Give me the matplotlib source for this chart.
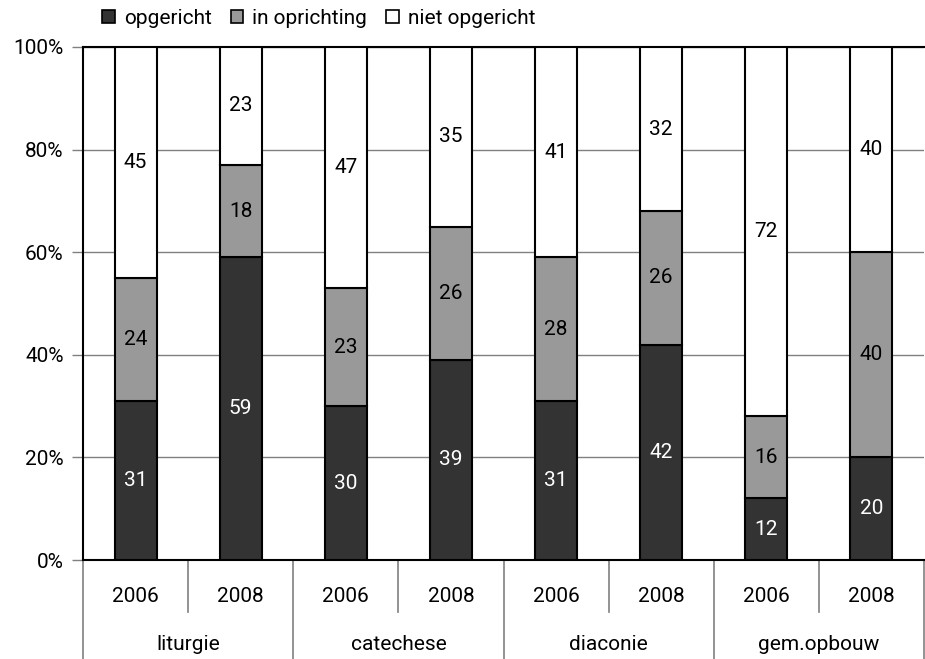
import matplotlib
matplotlib.use("Agg")
import matplotlib.pyplot as plt
from matplotlib.patches import Patch
import numpy as np

groups = ["liturgie", "catechese", "diaconie", "gem.opbouw"]
years = ["2006", "2008"]
series_names = ["opgericht", "in oprichting", "niet opgericht"]
opgericht = [31, 59, 30, 39, 31, 42, 12, 20]
in_oprichting = [24, 18, 23, 26, 28, 26, 16, 40]
niet_opgericht = [45, 23, 47, 35, 41, 32, 72, 40]
yticks = [0, 20, 40, 60, 80, 100]

plt.rcParams['font.family'] = ["Roboto", "DejaVu Sans"]
FS = 15

W, H = 925, 659
fig = plt.figure(figsize=(W / 100, H / 100), dpi=100)
left, right, bottom, top = 83 / W, 924 / W, 1 - 560 / H, 1 - 47 / H
ax = fig.add_axes([left, bottom, right - left, top - bottom])

colors = ["#333333", "#999999", "#ffffff"]
txtcol = ["white", "black", "black"]
data = [opgericht, in_oprichting, niet_opgericht]
x = np.arange(len(opgericht))
base = np.zeros(len(x))
for vals, c, tc in zip(data, colors, txtcol):
    vals = np.array(vals, dtype=float)
    ax.bar(x, vals, 0.4, bottom=base, color=c, edgecolor="black", linewidth=1.5, zorder=3)
    for xi, b, v in zip(x, base, vals):
        ax.text(xi, b + v / 2, f"{int(v)}", ha="center", va="center", color=tc, fontsize=FS, zorder=4)
    base += vals

ax.set_xlim(-0.5, 7.5)
ax.set_ylim(0, 100)
ax.set_yticks(yticks)
ax.set_yticklabels([f"{t}%" for t in yticks], fontsize=FS)
ax.yaxis.grid(True, color="#808080", linewidth=1, zorder=0)
ax.set_xticks([])
for s in ["left", "top", "bottom"]:
    ax.spines[s].set_color("black")
    ax.spines[s].set_linewidth(1.5)
ax.spines["right"].set_visible(False)
ax.tick_params(axis="y", length=8, width=1, color="#808080", pad=6)

# category axis
trans = matplotlib.transforms.blended_transform_factory(ax.transData, fig.transFigure)
for b in [-0.5, 1.5, 3.5, 5.5, 7.5]:
    ax.plot([b, b], [0, 1 - 560 / H], transform=trans, color="#808080", lw=1.2, clip_on=False)
for b in [0.5, 2.5, 4.5, 6.5]:
    ax.plot([b, b], [1 - 612 / H, 1 - 560 / H], transform=trans, color="#808080", lw=1.2, clip_on=False)
for i in range(len(x)):
    ax.text(i, 1 - 597 / H, years[i % 2], transform=trans, ha="center", va="center", fontsize=FS)
for g, name in enumerate(groups):
    ax.text(2 * g + 0.5, 1 - 645 / H, name, transform=trans, ha="center", va="center", fontsize=FS)

handles = [Patch(facecolor=c, edgecolor="black", linewidth=1.2) for c in colors]
fig.legend(handles, series_names, loc="center left", bbox_to_anchor=(102 / W, 1 - 18 / H), ncol=3,
           frameon=False, fontsize=FS, handlelength=0.6, handleheight=0.6, handletextpad=0.45,
           columnspacing=0.9, borderaxespad=0, borderpad=0)

fig.savefig("out.png", dpi=100)
